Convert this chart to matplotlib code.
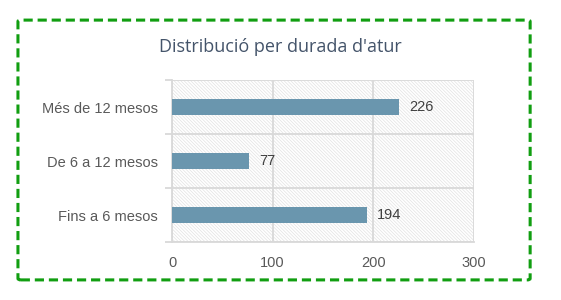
import matplotlib.pyplot as plt
from matplotlib.patches import FancyBboxPatch, Rectangle

categories = ['Fins a 6 mesos', 'De 6 a 12 mesos', 'Més de 12 mesos']
values = [194, 77, 226]
xticks = [0, 100, 200, 300]

plt.rcParams['font.family'] = ['Liberation Sans', 'DejaVu Sans']
plt.rcParams['hatch.linewidth'] = 0.5

fig = plt.figure(figsize=(5.61, 3.0), dpi=100)
ax = fig.add_axes([0.3066, 0.193, 0.538, 0.54])

# hatched plot background
ax.add_patch(Rectangle((0, 0), 1, 1, transform=ax.transAxes, facecolor='white',
                       edgecolor='#e2e2e2', hatch='\\' * 10, lw=0, zorder=0))

y = range(len(categories))
ax.barh(y, values, height=0.3, color='#6a96ae', zorder=3)
for yi, v in zip(y, values):
    ax.text(v + 10, yi, str(v), va='center', ha='left', fontsize=10.5, color='#404040')

ax.set_xlim(0, 300)
ax.set_ylim(-0.5, 2.5)
ax.set_xticks(xticks)
ax.set_yticks(list(y))
ax.set_yticklabels(categories)
ax.set_yticks([-0.5, 0.5, 1.5, 2.5], minor=True)

ax.grid(axis='x', color='#d9d9d9', lw=1.3, zorder=1)
ax.grid(axis='y', which='minor', color='#d9d9d9', lw=1.3, zorder=1)
ax.tick_params(axis='y', which='major', length=0, pad=10, labelsize=10.5, labelcolor='#595959')
ax.tick_params(axis='y', which='minor', length=5, color='#d9d9d9', width=1.3)
ax.tick_params(axis='x', length=0, pad=10, labelsize=10.5, labelcolor='#595959')
for s in ['top', 'right']:
    ax.spines[s].set_visible(False)
for s in ['left', 'bottom']:
    ax.spines[s].set_color('#d9d9d9')
    ax.spines[s].set_linewidth(1.3)

fig.text(0.5, 0.843, "Distribució per durada d'atur", ha='center', va='center',
         fontsize=13, color='#44546a', family=['Open Sans', 'DejaVu Sans'])

# dashed green frame
fig.patches.append(FancyBboxPatch((0.032, 0.067), 0.913, 0.866,
                                  boxstyle='round,pad=0,rounding_size=0.005',
                                  transform=fig.transFigure, fill=False,
                                  edgecolor='#119e11', lw=2.2, linestyle=(0, (3, 1.6))))

plt.savefig('out.png', dpi=100)
